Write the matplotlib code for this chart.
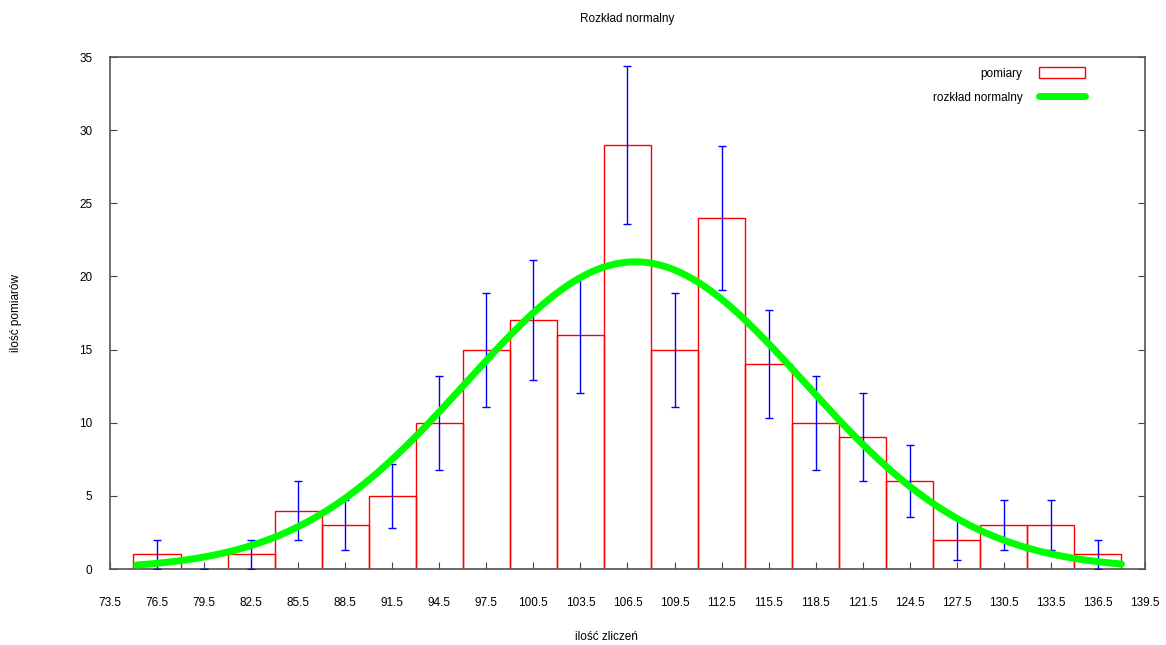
import numpy as np
import matplotlib
matplotlib.use('Agg')
import matplotlib.pyplot as plt
from matplotlib.patches import Patch
from matplotlib.lines import Line2D

plt.rcParams['font.family'] = ['Liberation Sans', 'DejaVu Sans']

# dane
srodki = [76.5, 79.5, 82.5, 85.5, 88.5, 91.5, 94.5, 97.5, 100.5, 103.5, 106.5,
          109.5, 112.5, 115.5, 118.5, 121.5, 124.5, 127.5, 130.5, 133.5, 136.5]
pomiary = [1, 0, 1, 4, 3, 5, 10, 15, 17, 16, 29, 15, 24, 14, 10, 9, 6, 2, 3, 3, 1]
bledy = [1, 0, 1, 2, 1.7, 2.2, 3.2, 3.9, 4.1, 4, 5.4, 3.9, 4.9, 3.7, 3.2, 3,
         2.45, 1.4, 1.7, 1.7, 1]
szer = 3
tick_labels = ['73.5', '76.5', '79.5', '82.5', '85.5', '88.5', '91.5', '94.5',
               '97.5', '100.5', '103.5', '106.5', '109.5', '112.5', '115.5',
               '118.5', '121.5', '124.5', '127.5', '130.5', '133.5', '136.5', '139.5']

# parametry dopasowanego rozkładu normalnego
amp, mu, sigma = 21.0, 107.0, 10.8
xs = np.linspace(75.2, 138, 300)
ys = amp * np.exp(-(xs - mu) ** 2 / (2 * sigma ** 2))

fig = plt.figure(figsize=(11.66, 6.45), dpi=100)
ax = fig.add_axes([0.0943, 0.1178, 0.8877, 0.7938])

ax.bar(srodki, pomiary, width=szer, fill=False, edgecolor='#ff0000', linewidth=1.0, zorder=2)
ax.errorbar(srodki, pomiary, yerr=bledy, fmt='none', ecolor='#0000ff', elinewidth=1.0,
            capsize=3, capthick=1.0, zorder=3)
ax.plot(xs, ys, color='#00ff00', linewidth=5, solid_capstyle='round', zorder=4)

ax.set_xlim(73.5, 139.5)
ax.set_ylim(0, 35)
ax.set_xticks([float(t) for t in tick_labels])
ax.set_xticklabels(tick_labels)
ax.set_yticks(range(0, 36, 5))
ax.tick_params(axis='both', direction='in', labelsize=8.5, color='#444444')
ax.tick_params(axis='x', length=5, pad=20.5)
ax.tick_params(axis='y', length=5, right=True, pad=12.5)
for s in ax.spines.values():
    s.set_color('#555555')
    s.set_linewidth(1.2)

ax.set_title('Rozkład normalny', fontsize=8.5, pad=25)
fig.text(0.52, 0.0124, 'ilość zliczeń', fontsize=8.5, ha='center', va='center')
fig.text(0.0135, 0.515, 'ilość pomiarów', fontsize=8.5, rotation=90, ha='center', va='center')

uchwyty = [Patch(facecolor='none', edgecolor='#ff0000', linewidth=1.0),
           Line2D([], [], color='#00ff00', linewidth=5, solid_capstyle='round')]
ax.legend(uchwyty, ['pomiary', 'rozkład normalny'], loc='upper right', frameon=False,
          markerfirst=False, fontsize=8.5, handlelength=3.9, handleheight=1.0,
          labelspacing=1.0, borderaxespad=0, borderpad=0, handletextpad=1.4,
          bbox_to_anchor=(0.942, 0.98))

fig.savefig('out.png', dpi=100)
